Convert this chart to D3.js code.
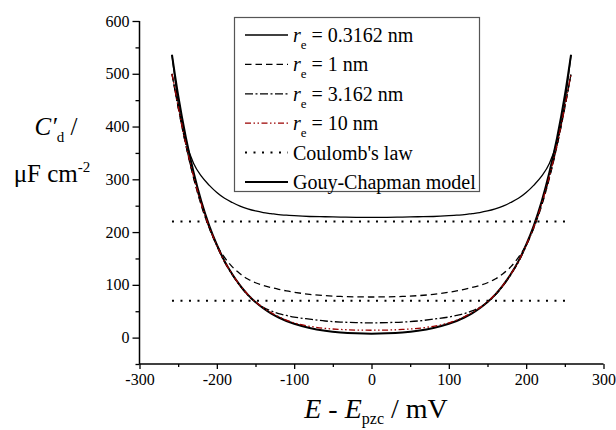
<!DOCTYPE html>
<html>
<head>
<meta charset="utf-8">
<script src="https://cdn.jsdelivr.net/npm/d3@7"></script>
<style>
  html, body { margin: 0; padding: 0; background: #fff; }
  svg { display: block; }
  svg text, svg .tick text { font-family: "Liberation Serif", serif !important; }
</style>
</head>
<body>
<svg id="chart" width="616" height="430"></svg>
<script>
// ---- data ----
const potential = [-258,-250,-240,-230,-220,-210,-200,-190,-180,-170,-160,-150,-140,-130,-120,-110,-100,-80,-60,-40,-20,0,20,40,60,80,100,110,120,130,140,150,160,170,180,190,200,210,220,230,240,250,258];

const re03162 = [536,445,372,330,306,289,275,264,256,249,244,240,237,235,233,232,231,229.5,229,228.5,228,228,228,228.5,229,229.5,231,232,233,235,237,240,244,249,256,264,275,289,306,330,372,445,536];
const re1 = [500,436,364,302,250,208,175,152,134,121,111,104,99,95,91.5,88.5,86,82,79.5,78,77.3,77,77.3,78,79.5,82,86,88.5,91.5,95,99,104,111,121,134,152,175,208,250,302,364,436,500];
const re3162 = [500,437,365,304,252,209,174,143,119,98,80.5,67,57.5,50.5,45.5,42,39,35,31.5,29.5,28.5,28,28.5,29.5,31.5,35,39,42,45.5,50.5,57.5,67,80.5,98,119,143,174,209,252,304,365,437,500];
const re10 = [500,438,366,305,253,210,175,144,120,99,82,68,56.5,47.5,39.5,33,28,21.5,17.5,15.5,14.3,14,14.3,15.5,17.5,21.5,28,33,39.5,47.5,56.5,68,82,99,120,144,175,210,253,305,366,438,500];
const gouyChapman = [536,459,379,313,258,213,176,145,120,99,81.5,67.3,55.6,46,38.1,31.5,26.2,18.3,13.1,9.8,8.1,7.5,8.1,9.8,13.1,18.3,26.2,31.5,38.1,46,55.6,67.3,81.5,99,120,145,176,213,258,313,379,459,536];

const coulombLevels = [220, 70];
const coulombRange = [-258, 258];

const xTicks = [-300,-200,-100,0,100,200,300];
const xMinorTicks = [-250,-150,-50,50,150,250];
const yTicks = [0,100,200,300,400,500,600];
const yMinorTicks = [-50,50,150,250,350,450,550];

const legendLabels = ["0.3162", "1", "3.162", "10"];

// ---- layout ----
const FONT = "Liberation Serif";
const svg = d3.select("#chart");
const x = d3.scaleLinear().domain([-300, 300]).range([139.5, 603.5]);
const y = d3.scaleLinear().domain([-50, 600]).range([364, 21]);

const styles = [
  {stroke: "#000", width: 1.3, dash: null},
  {stroke: "#000", width: 1.3, dash: "6.5,4"},
  {stroke: "#000", width: 1.3, dash: "8,2.5,2,2.5"},
  {stroke: "#9b0000", width: 1.3, dash: "6,2.5,1.5,2.5,1.5,2.5"},
  {stroke: "#000", width: 2, dash: "2,6.5"},
  {stroke: "#000", width: 2, dash: null}
];

const series = [re03162, re1, re3162, re10];

const line = d3.line()
  .x((d, i) => x(potential[i]))
  .y(d => y(d))
  .curve(d3.curveMonotoneX);

// Coulomb lines
coulombLevels.forEach(v => {
  svg.append("line")
    .attr("x1", x(coulombRange[0])).attr("x2", x(coulombRange[1]))
    .attr("y1", y(v)).attr("y2", y(v))
    .attr("stroke", "#000").attr("stroke-width", 2)
    .attr("stroke-dasharray", styles[4].dash);
});

// Gouy-Chapman
svg.append("path").datum(gouyChapman)
  .attr("d", line).attr("fill", "none")
  .attr("stroke", "#000").attr("stroke-width", styles[5].width);

series.forEach((s, k) => {
  const st = styles[k];
  svg.append("path").datum(s)
    .attr("d", line).attr("fill", "none")
    .attr("stroke", st.stroke).attr("stroke-width", st.width)
    .attr("stroke-dasharray", st.dash);
});

// ---- axes ----
const xAxis = svg.append("g").attr("transform", `translate(0,${y(-50)})`)
  .call(d3.axisBottom(x).tickValues(xTicks).tickSize(5).tickPadding(5).tickFormat(d3.format("d")));
svg.append("g").attr("transform", `translate(0,${y(-50)})`)
  .call(d3.axisBottom(x).tickValues(xMinorTicks).tickSize(3).tickFormat(""))
  .select(".domain").remove();
const yAxis = svg.append("g").attr("transform", `translate(${x(-300)},0)`)
  .call(d3.axisLeft(y).tickValues(yTicks).tickSize(7).tickPadding(3).tickFormat(d3.format("d")));
svg.append("g").attr("transform", `translate(${x(-300)},0)`)
  .call(d3.axisLeft(y).tickValues(yMinorTicks).tickSize(4).tickFormat(""))
  .select(".domain").remove();

[xAxis, yAxis].forEach(g => g.attr("font-family", FONT).attr("font-size", 16));
svg.selectAll(".domain").attr("stroke", "#000").attr("stroke-width", 1.5);
svg.selectAll(".tick line").attr("stroke", "#000").attr("stroke-width", 1.3);
svg.selectAll(".tick text")
  .attr("font-family", FONT)
  .attr("font-size", 16).attr("fill", "#000");
xAxis.selectAll(".tick text").text(d => d < 0 ? "-" + Math.abs(d) : d);
xAxis.select(".domain").attr("d", `M${x(-300)},0H${x(300)}`);
yAxis.select(".domain").attr("d", `M0,${y(600)}V${y(-50)}`);

// ---- axis titles ----
const xt = svg.append("text")
  .attr("x", 376).attr("y", 418)
  .attr("text-anchor", "middle")
  .attr("font-family", FONT)
  .attr("font-size", 28).attr("fill", "#000");
xt.append("tspan").attr("font-style", "italic").text("E");
xt.append("tspan").text(" - ");
xt.append("tspan").attr("font-style", "italic").text("E");
xt.append("tspan").attr("font-size", 16).attr("dy", 6).text("pzc");
xt.append("tspan").attr("dy", -6).text(" / mV");

const yt1 = svg.append("text")
  .attr("x", 56).attr("y", 135)
  .attr("text-anchor", "middle")
  .attr("font-family", FONT)
  .attr("font-size", 25).attr("fill", "#000");
yt1.append("tspan").attr("font-style", "italic").text("C′");
yt1.append("tspan").attr("font-size", 15).attr("dy", 7).text("d");
yt1.append("tspan").attr("dy", -7).text(" /");

const yt2 = svg.append("text")
  .attr("x", 52).attr("y", 182)
  .attr("text-anchor", "middle")
  .attr("font-family", FONT)
  .attr("font-size", 25).attr("fill", "#000");
yt2.append("tspan").text("μF cm");
yt2.append("tspan").attr("font-size", 15).attr("dy", -10).text("-2");

// ---- legend ----
const lg = svg.append("g");
lg.append("rect")
  .attr("x", 234.5).attr("y", 17.5).attr("width", 245).attr("height", 174)
  .attr("fill", "#fff").attr("stroke", "#555").attr("stroke-width", 1.2);

const rowY = i => 35 + i * 29.4;
const legendItems = legendLabels.map((v, i) => ({type: "re", v, st: styles[i]}))
  .concat([{type: "text", v: "Coulomb's law", st: styles[4]},
           {type: "text", v: "Gouy-Chapman model", st: styles[5]}]);

legendItems.forEach((it, i) => {
  const cy = rowY(i);
  lg.append("line")
    .attr("x1", 245).attr("x2", 288).attr("y1", cy).attr("y2", cy)
    .attr("stroke", it.st.stroke).attr("stroke-width", it.st.width)
    .attr("stroke-dasharray", it.st.dash);
  const t = lg.append("text").attr("x", 293).attr("y", cy + 7)
    .attr("font-family", FONT)
    .attr("font-size", 20).attr("fill", "#000");
  if (it.type === "re") {
    t.append("tspan").attr("font-style", "italic").text("r");
    t.append("tspan").attr("font-size", 13).attr("dy", 7).text("e");
    t.append("tspan").attr("dy", -7).text(" = " + it.v + " nm");
  } else {
    t.text(it.v);
  }
});
</script>
</body>
</html>
